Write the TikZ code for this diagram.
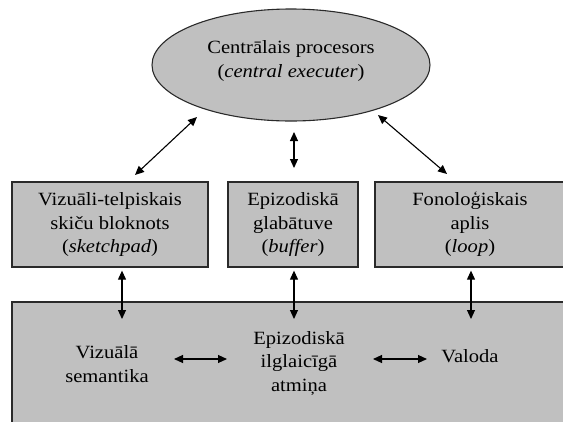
\documentclass[tikz,border=0pt]{standalone}
\usepackage{fontspec}
\setmainfont{Liberation Serif}[FakeStretch=1.1]
\usetikzlibrary{shapes.geometric,arrows.meta}
\definecolor{boxfill}{HTML}{C0C0C0}
\definecolor{boxline}{HTML}{2A2A2A}
\tikzset{
  txt/.style={font=\fontsize{18.7pt}{23.5pt}\selectfont, align=center, text=black},
  oval/.style={ellipse, draw=boxline, line width=1.1pt, fill=boxfill,
    minimum width=278pt, minimum height=112pt, inner sep=0pt},
  part/.style={txt, rectangle, draw=boxline, line width=1.3pt, fill=boxfill,
    minimum height=85pt, inner sep=0pt},
  store/.style={rectangle, draw=boxline, line width=1.3pt, fill=boxfill, inner sep=0pt},
  biarrow/.style={line width=1.1pt, {Triangle[length=9pt,width=8pt]}-{Triangle[length=9pt,width=8pt]}}
}
\begin{document}
\begin{tikzpicture}[x=1pt,y=-1pt]
\useasboundingbox (0,0) rectangle (563,421);
\clip (0,0) rectangle (563,421);

% central executive
\node[oval] (ce) at (291,65) {};
\node[txt] (cet) at ([yshift=4pt]ce.center) {Centrālais procesors\\(\textit{central executer})};

% the three subsidiary systems
\node[part, minimum width=196pt] (sk) at (110,224.5) {Vizuāli-telpiskais\\skiču bloknots\\(\textit{sketchpad})};
\node[part, minimum width=130pt] (eb) at (293,224.5) {Epizodiskā\\glabātuve\\(\textit{buffer})};
\node[part, minimum width=190pt] (pl) at (470,224.5) {Fonoloģiskais\\aplis\\(\textit{loop})};

% long-term memory
\node[store, minimum width=562pt, minimum height=140pt] (ltm) at (293,372) {};
\node[txt] (vs) at (107,364) {Vizuālā\\semantika};
\node[txt] (el) at (299,363) {Epizodiskā\\ilglaicīgā\\atmiņa};
\node[txt] (va) at (470,356) {Valoda};

% arrow end points
\coordinate (d1a) at (135,175);
\coordinate (d1b) at (197,117);
\coordinate (d2a) at (294,168);
\coordinate (d2b) at (294,132);
\coordinate (d3a) at (447,174);
\coordinate (d3b) at (378,115);
\coordinate (v1) at (122,319);
\coordinate (v2) at (294,319);
\coordinate (v3) at (471,319);
\coordinate (h1a) at (174,359);
\coordinate (h1b) at (227,359);
\coordinate (h2a) at (373,359);
\coordinate (h2b) at (427,359);

% links to the central executive
\draw[biarrow] (d1a) -- (d1b);
\draw[biarrow] (d2a) -- (d2b);
\draw[biarrow] (d3a) -- (d3b);

% links down to long-term memory
\draw[biarrow, shorten <=3pt] (sk.south -| v1) -- (v1);
\draw[biarrow, shorten <=3pt] (eb.south -| v2) -- (v2);
\draw[biarrow, shorten <=3pt] (pl.south -| v3) -- (v3);

% links inside long-term memory
\draw[biarrow] (h1a) -- (h1b);
\draw[biarrow] (h2a) -- (h2b);
\end{tikzpicture}
\end{document}
